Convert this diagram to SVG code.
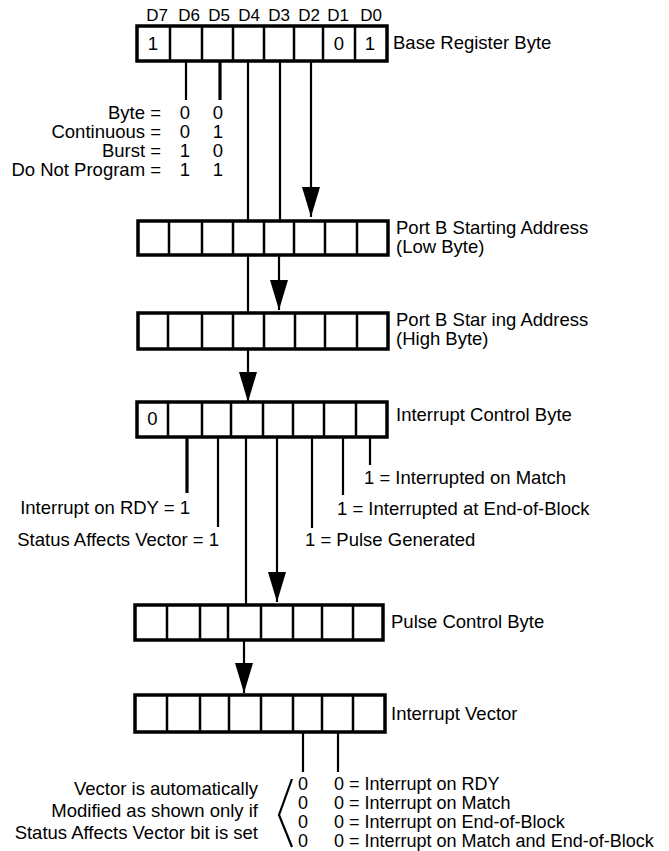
<svg xmlns="http://www.w3.org/2000/svg" width="669" height="851" viewBox="0 0 669 851">
<style>
.box{fill:#fff;stroke:#000;stroke-width:3.5}
.div{stroke:#000;stroke-width:2.5;fill:none}
.ln{stroke:#000;stroke-width:2.2;fill:none}
.lnb{stroke:#000;stroke-width:3.2;fill:none}
text{font-family:"Liberation Sans",Arial,sans-serif;font-size:18.5px;fill:#000}
.d{font-size:17px;text-anchor:middle}
.m{text-anchor:middle}
.e{text-anchor:end}
.s{font-size:18px}
</style>
<defs>
<marker id="ah" markerUnits="userSpaceOnUse" markerWidth="30" markerHeight="18" viewBox="0 0 30 18" refX="30" refY="9" orient="auto">
<path d="M0,0 L30,9 L0,18 Z" fill="#000"/>
</marker>
</defs>
<rect width="669" height="851" fill="#fff"/>

<g id="bitlabels">
<text class="d" x="157" y="21">D7</text>
<text class="d" x="189" y="21">D6</text>
<text class="d" x="219" y="21">D5</text>
<text class="d" x="249" y="21">D4</text>
<text class="d" x="279" y="21">D3</text>
<text class="d" x="309" y="21">D2</text>
<text class="d" x="338" y="21">D1</text>
<text class="d" x="371" y="21">D0</text>
</g>

<g id="connectors">
<line class="ln" x1="186" y1="57" x2="186" y2="100"/>
<line class="lnb" x1="220" y1="57" x2="220" y2="100"/>
<line class="ln" x1="248" y1="61" x2="248" y2="221"/>
<line class="ln" x1="280" y1="61" x2="280" y2="221"/>
<line class="ln" x1="311" y1="61" x2="311" y2="217" marker-end="url(#ah)"/>
<line class="ln" x1="248" y1="255" x2="248" y2="313"/>
<line class="ln" x1="279" y1="255" x2="279" y2="310" marker-end="url(#ah)"/>
<line class="ln" x1="248" y1="349" x2="248" y2="402" marker-end="url(#ah)"/>
<line class="lnb" x1="187" y1="437" x2="187" y2="493"/>
<line class="ln" x1="218" y1="437" x2="218" y2="527"/>
<line class="ln" x1="246" y1="437" x2="246" y2="605"/>
<line class="ln" x1="277" y1="434" x2="277" y2="602" marker-end="url(#ah)"/>
<line class="ln" x1="312" y1="437" x2="312" y2="528"/>
<line class="ln" x1="343" y1="437" x2="343" y2="495"/>
<line class="ln" x1="370" y1="437" x2="370" y2="465"/>
<line class="ln" x1="244" y1="640" x2="244" y2="693" marker-end="url(#ah)"/>
<line class="ln" x1="303" y1="732" x2="303" y2="772"/>
<line class="ln" x1="338" y1="732" x2="338" y2="772"/>
</g>

<g id="base-register">
<rect class="box" x="137" y="26" width="250" height="35"/>
<path class="div" d="M170,26V61M202,26V61M233,26V61M264,26V61M294,26V61M323,26V61M355,26V61"/>
<text class="m" x="153" y="50">1</text>
<text class="m" x="339" y="50">0</text>
<text class="m" x="370" y="50">1</text>
<text x="393" y="49">Base Register Byte</text>
</g>

<g id="mode-legend">
<text class="e" x="161" y="119">Byte =</text>
<text class="e" x="161" y="138">Continuous =</text>
<text class="e" x="161" y="157">Burst =</text>
<text class="e" x="161" y="176">Do Not Program =</text>
<text class="m" x="185" y="119">0</text>
<text class="m" x="218" y="119">0</text>
<text class="m" x="185" y="138">0</text>
<text class="m" x="218" y="138">1</text>
<text class="m" x="185" y="157">1</text>
<text class="m" x="218" y="157">0</text>
<text class="m" x="185" y="176">1</text>
<text class="m" x="218" y="176">1</text>
</g>

<g id="port-b-low">
<rect class="box" x="138" y="221" width="250" height="34"/>
<path class="div" d="M169,221V255M202,221V255M233,221V255M264,221V255M294,221V255M325,221V255M357,221V255"/>
<text x="396" y="234">Port B Starting Address</text>
<text x="396" y="253">(Low Byte)</text>
</g>

<g id="port-b-high">
<rect class="box" x="138" y="313" width="250" height="36"/>
<path class="div" d="M168,313V349M202,313V349M233,313V349M264,313V349M295,313V349M325,313V349M357,313V349"/>
<text x="396" y="326">Port B Star ing Address</text>
<text x="396" y="345">(High Byte)</text>
</g>

<g id="interrupt-control">
<rect class="box" x="137" y="402" width="250" height="35"/>
<path class="div" d="M168,402V437M202,402V437M231,402V437M263,402V437M293,402V437M324,402V437M356,402V437"/>
<text class="m" x="152.5" y="425">0</text>
<text x="396" y="421">Interrupt Control Byte</text>
</g>

<g id="interrupt-legend">
<text x="364" y="484">1 = Interrupted on Match</text>
<text class="e" x="190" y="514">Interrupt on RDY = 1</text>
<text x="337" y="515">1 = Interrupted at End-of-Block</text>
<text class="e" x="219" y="546">Status Affects Vector = 1</text>
<text x="305" y="546">1 = Pulse Generated</text>
</g>

<g id="pulse-control">
<rect class="box" x="135" y="605" width="248" height="35"/>
<path class="div" d="M167,605V640M200,605V640M228,605V640M261,605V640M293,605V640M322,605V640M353,605V640"/>
<text x="391" y="628">Pulse Control Byte</text>
</g>

<g id="interrupt-vector">
<rect class="box" x="135" y="695" width="250" height="37"/>
<path class="div" d="M167,695V732M200,695V732M229,695V732M261,695V732M293,695V732M322,695V732M353,695V732"/>
<text x="391" y="720">Interrupt Vector</text>
</g>

<g id="vector-legend">
<text class="e" x="258" y="795">Vector is automatically</text>
<text class="e" x="258" y="817">Modified as shown only if</text>
<text class="e" x="258" y="839">Status Affects Vector bit is set</text>
<path class="ln" d="M292,779 L279,815 L292,847" stroke-width="1.6"/>
<text class="s" x="298" y="790">0</text>
<text class="s" x="298" y="809">0</text>
<text class="s" x="298" y="828">0</text>
<text class="s" x="298" y="847">0</text>
<text class="s" x="334" y="790">0 = Interrupt on RDY</text>
<text class="s" x="334" y="809">0 = Interrupt on Match</text>
<text class="s" x="334" y="828">0 = Interrupt on End-of-Block</text>
<text class="s" x="334" y="847">0 = Interrupt on Match and End-of-Block</text>
</g>
</svg>
